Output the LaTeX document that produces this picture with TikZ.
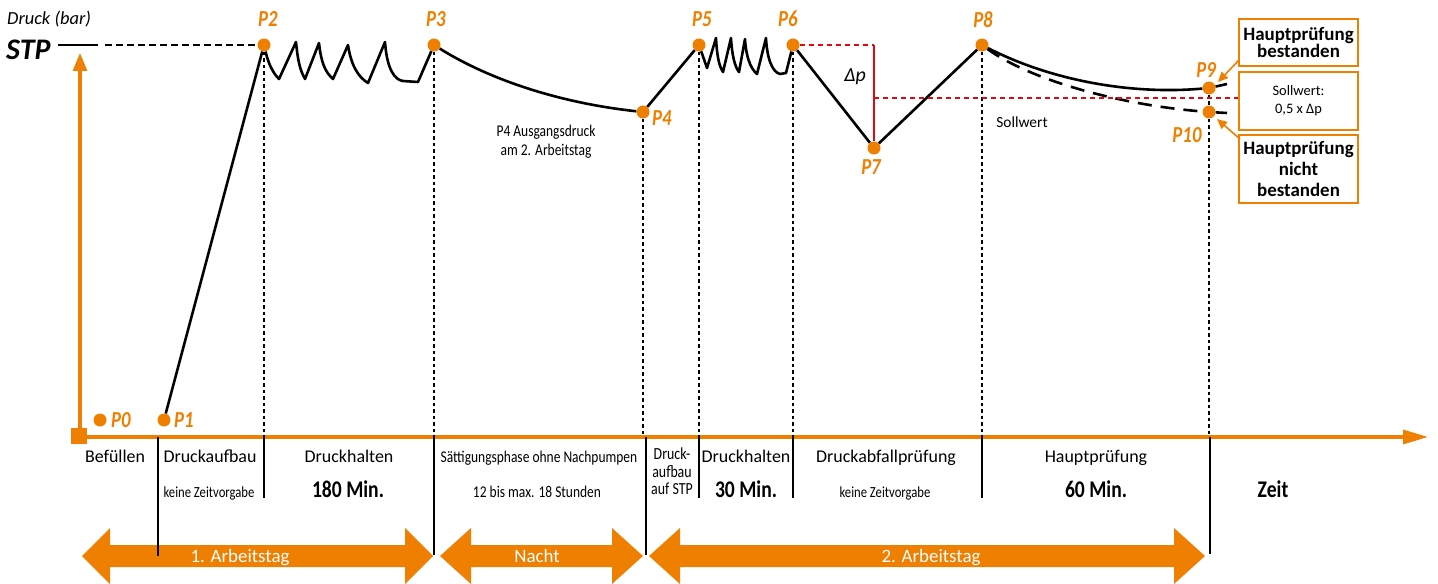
\documentclass[tikz,border=0pt]{standalone}
\usepackage{fontspec}
\setmainfont{Carlito}
\newfontfamily\condfont{Carlito}[FakeStretch=0.82]
\usetikzlibrary{arrows.meta}
\definecolor{orng}{HTML}{EE7F00}
\definecolor{redd}{HTML}{E30613}
\newcommand\fsz[2]{\fontsize{#1}{#2}\selectfont}
\begin{document}
\begin{tikzpicture}[x=1bp,y=-1bp,
  dot/.style={circle,fill=orng,inner sep=0pt,minimum size=13bp},
  plab/.style={text=orng,font=\condfont\fsz{23}{24}\bfseries\itshape,inner sep=0pt},
  curve/.style={line width=2.6bp,line join=round},
  vdot/.style={line width=2.9bp,dash pattern=on 3.5bp off 3bp},
  sep/.style={line width=1.9bp},
  lab/.style={font=\fsz{18}{20},inner sep=0pt},
  clab/.style={font=\condfont\fsz{16.5}{18},inner sep=0pt,align=center},
  bignum/.style={font=\condfont\fsz{24}{26}\bfseries,inner sep=0pt},
  box/.style={draw=orng,line width=1.6bp,fill=white,inner sep=0pt,minimum width=119bp,align=center},
  reddash/.style={redd,line width=2.8bp,dash pattern=on 5bp off 4bp},
  oarrow/.style={orng,line width=1.6bp,-{Triangle[length=10bp,width=9bp]}},
  dbltext/.style={text=white,font=\fsz{19}{20},inner sep=0pt},
]
\useasboundingbox (0,0) rectangle (1438,584);

% ---------- double arrows ----------
\fill[orng] (82,556) -- (110,528) -- (110,545) -- (405,545) -- (405,528) -- (433,556) -- (405,584) -- (405,567) -- (110,567) -- (110,584) -- cycle;
\fill[orng] (440,556) -- (471,528) -- (471,545) -- (612,545) -- (612,528) -- (643,556) -- (612,584) -- (612,567) -- (471,567) -- (471,584) -- cycle;
\fill[orng] (649,556) -- (680,528) -- (680,545) -- (1174,545) -- (1174,528) -- (1205,556) -- (1174,584) -- (1174,567) -- (680,567) -- (680,584) -- cycle;
\node[dbltext,anchor=base] (a1t) at (240,562) {1. Arbeitstag};
\node[dbltext,anchor=base] (a2t) at (537,562) {Nacht};
\node[dbltext,anchor=base] (a3t) at (931,562) {2. Arbeitstag};

% ---------- axes ----------
\coordinate (O) at (80,437);
\coordinate (xend) at (1428,437);
\coordinate (yend) at (80,53);
\draw[orng,line width=3.2bp,-{Triangle[length=25bp,width=14bp]}] (O) -- (xend);
\draw[orng,line width=3.2bp,-{Triangle[length=18bp,width=14bp]}] (O) -- (yend);
\node[fill=orng,minimum size=16bp,inner sep=0pt] (sq) at (79,436) {};

\node[font=\fsz{18.5}{20}\itshape,anchor=base west,inner sep=0pt] (ytitle) at (7,25) {Druck (bar)};
\node[font=\fsz{30}{32}\bfseries\itshape,anchor=base west,inner sep=0pt] (stp) at (6,60) {STP};

% ---------- points ----------
\node[dot] (p0) at (100,420) {};
\node[dot] (p1) at (164,420) {};
\node[dot] (p2) at (264,45) {};
\node[dot] (p3) at (434,45) {};
\node[dot] (p4) at (643,112) {};
\node[dot] (p5) at (699,45) {};
\node[dot] (p6) at (793,45) {};
\node[dot] (p7) at (874,148) {};
\node[dot] (p8) at (982,45) {};
\node[dot] (p9) at (1209,88) {};
\node[dot] (p10) at (1209,112) {};

\node[plab] (l0) at (121,420) {P0};
\node[plab] (l1) at (184,420) {P1};
\node[plab] (l2) at (268,19) {P2};
\node[plab] (l3) at (436,19) {P3};
\node[plab] (l4) at (662,118) {P4};
\node[plab] (l5) at (702,19) {P5};
\node[plab] (l6) at (788,19) {P6};
\node[plab] (l7) at (871,167) {P7};
\node[plab] (l8) at (983,20) {P8};
\node[plab] (l9) at (1206,70) {P9};
\node[plab] (l10) at (1187,135) {P10};

% STP reference line
\coordinate (stpa) at (58,45);
\coordinate (stpb) at (98,45);
\coordinate (stpc) at (105,45);
\draw[line width=1.4bp] (stpa) -- (stpb);
\draw[line width=1.4bp,dash pattern=on 7bp off 4bp] (stpc) -- (p2);

% ---------- pressure curve ----------
\draw[curve] (p1) -- (p2);
\draw[curve] (p2) .. controls (268,62) and (272,72) .. (279,79)
  -- (296,42) .. controls (298,62) and (300,70) .. (305,79)
  -- (319,43) .. controls (321,62) and (325,72) .. (333,79)
  -- (348,45) .. controls (351,65) and (358,77) .. (368,83)
  -- (385,42) .. controls (387,70) and (395,80) .. (403,81)
  -- (418,82) -- (p3);
\draw[curve] (p3) .. controls (490,80) and (560,103) .. (p4);
\draw[curve] (p4) -- (p5);
\draw[curve] (p5) -- (707,68) -- (716,38) .. controls (717,56) and (719,66) .. (723,72)
  -- (731,38) .. controls (732,56) and (735,67) .. (739,72)
  -- (745,39) .. controls (746,56) and (750,68) .. (757,74)
  -- (766,38) .. controls (767,58) and (772,72) .. (780,74)
  -- (786,73) -- (p6);
\draw[curve] (p6) -- (p7) -- (p8);
\draw[curve] (p8) .. controls (1050,80) and (1130,95) .. (p9);
\coordinate (p9e) at (1227,84);
\draw[curve] (p9) -- (p9e);
\draw[line width=2.6bp,dash pattern=on 14bp off 9bp] (p8) .. controls (1030,80) and (1120,105) .. (p10);
\coordinate (p10e) at (1227,113);
\draw[line width=2.6bp] (p10) -- (p10e);

% red delta-p construction
\coordinate (dtop) at (874,45);
\coordinate (sw) at (874,98);
\draw[reddash] (p6) -- (dtop);
\draw[redd,line width=2.6bp] (dtop) -- (p7);
\node[font=\fsz{20}{20}\itshape,inner sep=0pt] (tdp) at (855,77) {Δp};

% ---------- dotted verticals ----------
\foreach \p in {p2,p3,p4,p5,p6,p8,p10}
  \draw[vdot] (\p) -- (\p |- O);
\draw[vdot] (p9) -- (p10);

% ---------- separators below axis ----------
\coordinate (s1) at (158,437);
\coordinate (s4) at (646,437);
\coordinate (s8) at (1210,437);
\draw[sep] (s1) -- ++(0,119);
\draw[sep] (p2 |- O) -- ++(0,61);
\draw[sep] (p3 |- O) -- ++(0,118);
\draw[sep] (s4) -- ++(0,118);
\draw[sep] (p5 |- O) -- ++(0,61);
\draw[sep] (p6 |- O) -- ++(0,61);
\draw[sep] (p8 |- O) -- ++(0,61);
\draw[sep] (s8) -- ++(0,117);

% ---------- phase labels ----------
\node[lab,anchor=base] (tbef) at (115,462) {Befüllen};
\node[lab,anchor=base] (tdauf) at (210,462) {Druckaufbau};
\node[clab,font=\condfont\fsz{15.5}{17},anchor=base] (tkz1) at (209,497) {keine Zeitvorgabe};
\node[lab,anchor=base] (tdh1) at (349,462) {Druckhalten};
\node[bignum,anchor=base] (t180) at (348,497) {180 Min.};
\node[clab,anchor=base] (tsat) at (539,462) {Sättigungsphase ohne Nachpumpen};
\node[clab,anchor=base] (t12) at (537,497) {12 bis max. 18 Stunden};
\node[clab,font=\condfont\fsz{17}{17.5},anchor=north] (tda) at (672,448) {Druck-\\aufbau\\auf STP};
\node[lab,anchor=base] (tdh2) at (746,462) {Druckhalten};
\node[bignum,anchor=base] (t30) at (746,497) {30 Min.};
\node[lab,anchor=base] (tdap) at (886,462) {Druckabfallprüfung};
\node[clab,font=\condfont\fsz{15.5}{17},anchor=base] (tkz2) at (885,497) {keine Zeitvorgabe};
\node[lab,anchor=base] (thp) at (1096,462) {Hauptprüfung};
\node[bignum,anchor=base] (t60) at (1096,497) {60 Min.};
\node[bignum,anchor=base] (tzeit) at (1273,497) {Zeit};

\node[clab,font=\condfont\fsz{16.5}{19}] (tp4) at (546,142) {P4 Ausgangsdruck\\am 2. Arbeitstag};
\node[lab,font=\fsz{15.5}{17},anchor=base] (tsoll) at (1022,128) {Sollwert};

% ---------- boxes ----------
\node[box,minimum height=47bp,font=\fsz{19}{18}\bfseries] (b1) at (1298.5,42.5) {Hauptprüfung\\bestanden};
\node[box,minimum height=58bp,font=\fsz{14.5}{18}] (b2) at (1298.5,101) {Sollwert:\\0,5 x Δp};
\node[box,minimum height=68bp,font=\fsz{19}{21.5}\bfseries] (b3) at (1298.5,169) {Hauptprüfung\\nicht\\bestanden};

\draw[reddash] (sw) -- (b2.west |- sw);

\coordinate (a9) at (1218,82);
\coordinate (a10) at (1217,119);
\coordinate (b1s) at (1239,60);
\coordinate (b3s) at (1240,139);
\draw[oarrow] (b1s) -- (a9);
\draw[oarrow] (b3s) -- (a10);
\end{tikzpicture}
\end{document}
